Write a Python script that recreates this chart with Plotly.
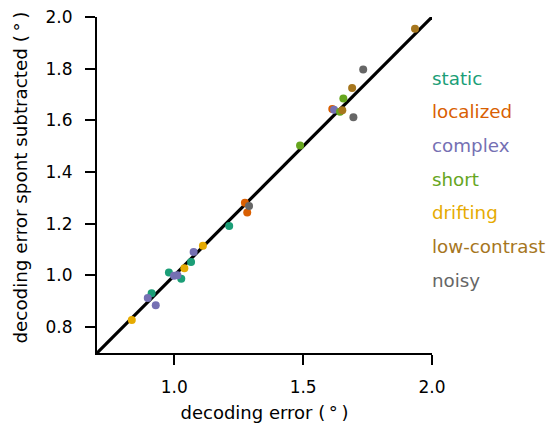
import plotly.graph_objects as go

categories = ["static", "localized", "complex", "short", "drifting", "low-contrast", "noisy"]
colors = ["#1b9e77", "#d95f02", "#7570b3", "#66a61e", "#e6ab02", "#a6761d", "#666666"]

x_static = [0.912, 0.979, 1.027, 1.065, 1.213]
y_static = [0.931, 1.011, 0.987, 1.052, 1.191]
x_localized = [1.274, 1.283, 1.613]
y_localized = [1.281, 1.244, 1.644]
x_complex = [0.897, 0.928, 0.999, 1.012, 1.075, 1.620]
y_complex = [0.913, 0.885, 0.999, 1.001, 1.091, 1.641]
x_short = [1.488, 1.643, 1.656]
y_short = [1.503, 1.633, 1.685]
x_drifting = [0.835, 1.039, 1.111]
y_drifting = [0.828, 1.028, 1.115]
x_lowcontrast = [1.652, 1.690, 1.934]
y_lowcontrast = [1.639, 1.725, 1.955]
x_noisy = [1.290, 1.695, 1.733]
y_noisy = [1.269, 1.612, 1.797]

xs = [x_static, x_localized, x_complex, x_short, x_drifting, x_lowcontrast, x_noisy]
ys = [y_static, y_localized, y_complex, y_short, y_drifting, y_lowcontrast, y_noisy]

x_ticks = [1.0, 1.5, 2.0]
y_ticks = [0.8, 1.0, 1.2, 1.4, 1.6, 1.8, 2.0]
axis_range = [0.7, 2.0]

FONT = "DejaVu Sans"
L, R, T, B, W, H = 97, 118, 17, 70, 550, 423
plot_w, plot_h = W - L - R, H - T - B

fig = go.Figure()
fig.add_trace(go.Scatter(x=axis_range, y=axis_range, mode="lines",
                         line=dict(color="black", width=3.2), showlegend=False,
                         hoverinfo="skip"))
for cat, col, x, y in zip(categories, colors, xs, ys):
    fig.add_trace(go.Scatter(x=x, y=y, mode="markers", name=cat,
                             marker=dict(color=col, size=8, line=dict(width=0)),
                             showlegend=False))

for i, (cat, col) in enumerate(zip(categories, colors)):
    ypix = 78 + i * 33.7  # from top of the page
    fig.add_annotation(text=cat, xref="paper", yref="paper", x=1.0, y=1 - (ypix - T) / plot_h,
                       xanchor="left", yanchor="middle", showarrow=False, xshift=-2,
                       font=dict(family=FONT, size=18.3, color=col))

# y-axis title as a rotated annotation
fig.add_annotation(text="decoding error spont subtracted (\u2009°\u2009)",
                   xref="paper", yref="paper", x=0, xshift=-77, y=(H - B - 177.5) / plot_h,
                   xanchor="center", yanchor="middle", textangle=-90, showarrow=False,
                   font=dict(family=FONT, size=18.3, color="black"))

axis_common = dict(range=axis_range, showgrid=False, zeroline=False, showline=True,
                   linecolor="black", linewidth=2, ticks="outside", ticklen=10,
                   tickwidth=2, tickcolor="black", automargin=False,
                   ticklabeloverflow="allow",
                   tickfont=dict(family=FONT, size=17, color="black"))
fig.update_xaxes(**axis_common, tickvals=x_ticks, ticktext=[f"{v:.1f}" for v in x_ticks],
                 ticklabelstandoff=8,
                 title=dict(text="decoding error (\u2009°\u2009)",
                            font=dict(family=FONT, size=18, color="black"), standoff=10))
fig.update_yaxes(**axis_common, tickvals=y_ticks, ticktext=[f"{v:.1f}" for v in y_ticks],
                 ticklabelstandoff=9)
fig.update_layout(width=W, height=H, margin=dict(l=L, r=R, t=T, b=B),
                  plot_bgcolor="white", paper_bgcolor="white", hovermode=False)
fig.write_html("out.html", config={"displayModeBar": False, "staticPlot": True},
               post_script="document.body.style.margin='0';document.body.style.overflow='hidden';")
